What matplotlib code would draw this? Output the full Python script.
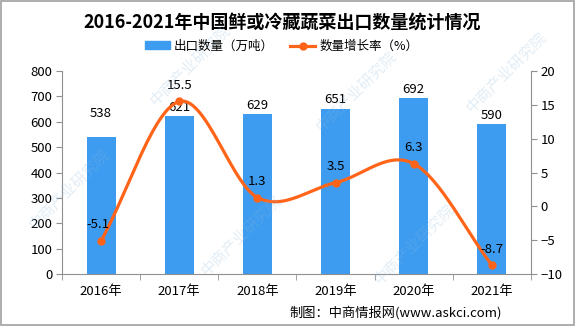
import matplotlib
matplotlib.use('Agg')
import matplotlib.pyplot as plt
from matplotlib.lines import Line2D
from matplotlib.patches import Patch, Rectangle
import numpy as np

plt.rcParams['font.family'] = ['Noto Sans CJK SC', 'DejaVu Sans']

years = ['2016年', '2017年', '2018年', '2019年', '2020年', '2021年']
volume = [538, 621, 629, 651, 692, 590]          # 出口数量（万吨）
growth = [-5.1, 15.5, 1.3, 3.5, 6.3, -8.7]       # 数量增长率（%）

bar_color = '#3d9cf0'
line_color = '#ff6419'


def smooth(xs, ys, n=30):
    # catmull-rom curve through the points, like the office-style smoothed line
    xs = np.asarray(xs, float)
    ys = np.asarray(ys, float)
    px = np.concatenate([[2 * xs[0] - xs[1]], xs, [2 * xs[-1] - xs[-2]]])
    py = np.concatenate([[2 * ys[0] - ys[1]], ys, [2 * ys[-1] - ys[-2]]])
    ox, oy = [], []
    t = np.linspace(0, 1, n)
    for i in range(1, len(px) - 2):
        for p, out in ((px, ox), (py, oy)):
            p0, p1, p2, p3 = p[i - 1], p[i], p[i + 1], p[i + 2]
            out.extend(0.5 * (2 * p1 + (-p0 + p2) * t
                              + (2 * p0 - 5 * p1 + 4 * p2 - p3) * t ** 2
                              + (-p0 + 3 * p1 - 3 * p2 + p3) * t ** 3))
    return np.array(ox), np.array(oy)


fig = plt.figure(figsize=(5.75, 3.26), dpi=100)
fig.patches.append(Rectangle((0.001, 0.002), 0.997, 0.995, transform=fig.transFigure,
                             fill=False, edgecolor='#a0a0a0', lw=1.2))

# faint watermark
for wx, wy in [(0.12, 0.42), (0.33, 0.80), (0.42, 0.28), (0.62, 0.72),
               (0.72, 0.25), (0.88, 0.78)]:
    fig.text(wx, wy, '中商产业研究院', rotation=45, fontsize=11, color='#8db9dc',
             alpha=0.25, ha='center', va='center', zorder=5)

ax = fig.add_axes([62 / 575, 52 / 326, 469 / 575, 203 / 326])
ax.patch.set_alpha(0)
x = np.arange(len(years))
ax.bar(x, volume, width=0.37, color=bar_color, zorder=2)
ax.set_xlim(-0.5, len(years) - 0.5)
ax.set_ylim(0, 800)
ax.set_yticks(range(0, 801, 100))
ax.set_xticks(x)
ax.set_xticklabels(years)
ax.set_xticks(np.arange(-0.5, len(years)), minor=True)
ax.tick_params(axis='x', which='major', length=0, pad=8, labelsize=9.5)
ax.tick_params(axis='x', which='minor', length=4, color='#909090')
ax.tick_params(axis='y', length=4, color='#909090', labelsize=9.5, pad=3)
for s in ['top', 'right']:
    ax.spines[s].set_visible(False)
for s in ['left', 'bottom']:
    ax.spines[s].set_color('#909090')

for i, v in enumerate(volume):
    off = 17 if i == 0 else 6.5
    ax.annotate(str(v), (i, v), xytext=(0, off), textcoords='offset points',
                ha='center', va='center', fontsize=9.5)

ax2 = ax.twinx()
ax2.set_ylim(-10, 20)
ax2.set_yticks(range(-10, 21, 5))
sx, sy = smooth(x, growth)
ax2.plot(sx, sy, color=line_color, lw=2.3, zorder=3)
ax2.plot(x, growth, 'o', color=line_color, ms=5, zorder=4)
for s in ['top', 'left', 'bottom']:
    ax2.spines[s].set_visible(False)
ax2.spines['right'].set_color('#909090')
ax2.tick_params(axis='y', length=4, color='#909090', labelsize=9.5, pad=3)
for i, g in enumerate(growth):
    dx = -2 if i == 0 else 0
    ax2.annotate(f'{g}', (i, g), xytext=(dx, 11.5), textcoords='offset points',
                 ha='center', va='center', fontsize=9.5)

fig.text(0.49, 0.932, '2016-2021年中国鲜或冷藏蔬菜出口数量统计情况', ha='center', va='center',
         fontsize=13, fontweight='bold')

handles = [Patch(color=bar_color),
           Line2D([0], [0], color=line_color, lw=2.3, marker='o', ms=5)]
fig.legend(handles, ['出口数量（万吨）', '数量增长率（%）'], loc='center',
           bbox_to_anchor=(0.49, 0.858), ncol=2, frameon=False, fontsize=9,
           handlelength=2.0, handleheight=0.6, columnspacing=1.3, handletextpad=0.3)

fig.text(0.873, 0.04, '制图：中商情报网(www.askci.com)', ha='right', va='center', fontsize=9.5)

fig.savefig('out.png', dpi=100)
